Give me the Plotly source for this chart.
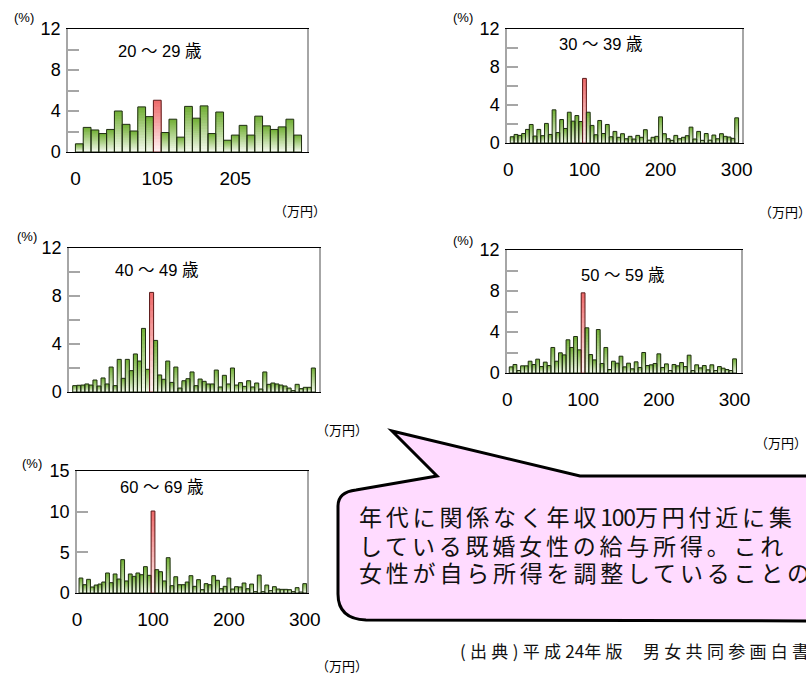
import plotly.graph_objects as go

W, H = 806, 674

# Income bins (万円): 10-wide for the 20s panel, 5-wide for the other age groups
income_20s = list(range(5, 295, 10))
income_5 = list(range(5, 305, 5))

# Share of married women (%) in each salary-income bin
share_20s = [0.8, 2.4, 2.15, 1.8, 2.2, 4.0, 2.7, 2.05, 4.4, 3.45,
             5.05, 1.9, 3.2, 1.45, 4.45, 3.3, 4.5, 1.8, 3.9, 1.15,
             1.65, 2.6, 1.65, 3.5, 2.55, 2.2, 2.45, 3.2, 1.65]
share_30s = [0.66, 0.9, 0.8, 1.0, 1.43, 1.95, 0.73, 1.43, 0.77, 2.06,
             0.9, 3.49, 1.1, 2.47, 1.53, 3.24, 2.3, 2.89, 2.26, 6.8,
             3.24, 1.85, 0.87, 2.37, 1.0, 1.95, 0.66, 1.22, 0.6, 0.98,
             0.45, 0.7, 0.42, 0.8, 0.6, 1.4, 0.3, 0.6, 0.7, 2.75,
             0.98, 0.45, 0.28, 0.8, 0.45, 0.6, 0.77, 1.67, 0.42, 1.22,
             0.28, 1.0, 0.3, 0.84, 0.45, 0.98, 0.7, 0.63, 0.49, 2.65]
share_40s = [0.53, 0.56, 0.58, 0.67, 0.58, 1.0, 0.5, 1.17, 0.67, 2.08,
             0.53, 2.72, 1.14, 2.72, 1.78, 3.17, 2.58, 5.3, 1.89, 8.3,
             4.3, 1.42, 1.06, 2.58, 0.8, 2.08, 0.33, 0.94, 1.11, 1.67,
             0.53, 1.08, 0.89, 0.67, 0.67, 1.83, 0.42, 1.39, 0.67, 2.0,
             0.58, 0.78, 0.47, 0.94, 0.42, 0.75, 0.25, 1.67, 0.64, 0.75,
             0.67, 0.58, 0.5, 0.33, 0.11, 0.64, 0.28, 0.39, 0.39, 2.0]
share_50s = [0.6, 0.83, 0.24, 0.7, 0.7, 1.15, 0.83, 1.35, 0.63, 1.06,
             0.73, 2.49, 1.15, 1.97, 1.77, 3.24, 2.49, 3.56, 2.26, 7.82,
             4.41, 1.8, 1.28, 4.24, 0.93, 2.49, 0.34, 1.15, 0.96, 1.64,
             0.6, 0.96, 0.41, 1.09, 0.54, 2.0, 0.73, 0.8, 0.93, 1.87,
             0.54, 0.89, 0.24, 0.83, 0.7, 1.02, 0.63, 1.74, 0.24, 0.8,
             0.5, 0.73, 0.31, 0.8, 0.24, 0.63, 0.47, 0.34, 0.24, 1.38]
share_60s = [1.84, 1.02, 1.68, 0.74, 0.98, 1.1, 1.35, 2.46, 1.27, 2.34,
             1.72, 4.1, 1.48, 2.34, 2.05, 2.46, 2.25, 3.24, 2.17, 10.08,
             2.87, 2.62, 1.48, 4.34, 0.9, 2.0, 1.02, 1.02, 1.35, 2.13,
             0.82, 1.64, 0.41, 1.15, 1.02, 2.13, 1.56, 0.53, 0.82, 1.84,
             0.49, 0.78, 0.74, 1.23, 0.53, 1.1, 0.16, 2.21, 0.16, 0.98,
             0.29, 0.78, 0.49, 0.45, 0.45, 0.41, 0.16, 0.66, 0.12, 1.15]

age_labels = ["20 ～ 29 歳", "30 ～ 39 歳", "40 ～ 49 歳", "50 ～ 59 歳", "60 ～ 69 歳"]
peak_bins = [105, 100, 100, 100, 100]
x_ticks_20s = [0, 105, 205]
x_ticks = [0, 100, 200, 300]

# callout lines, split so the digits can be set tighter than the kana/kanji
callout_lines = [["年代に関係なく年収", "100", "万円付近に集"],
                 ["している既婚女性の給与所得。これ"],
                 ["女性が自ら所得を調整していることの"]]
source_parts = ["(出典)平成", "24", "年版\u00a0\u00a0男女共同参画白書"]

# Panel geometry in pixels: (left, top, right, bottom)
panels = [
    dict(x=income_20s, y=share_20s, bin=10, box=(68, 29, 307, 152), xr=[-9.5, 297],
         ticks=x_ticks_20s, yr=[0, 12], ydt=4, ymin=2, labels=True,
         pct=(24, 17), age=(159, 51), unit=(300, 210, "center")),
    dict(x=income_5, y=share_30s, bin=5, box=(507, 29, 742, 143), xr=[-1.8, 307],
         ticks=x_ticks, yr=[0, 12], ydt=4, ymin=2, labels=True,
         pct=(463, 17), age=(600, 44), unit=(757, 211, "left")),
    dict(x=income_5, y=share_40s, bin=5, box=(69, 248, 319, 392), xr=[-2.1, 307],
         ticks=x_ticks, yr=[0, 12], ydt=4, ymin=2, labels=False,
         pct=(27, 236), age=(156, 270), unit=(342, 429, "center")),
    dict(x=income_5, y=share_50s, bin=5, box=(507, 250, 741, 373), xr=[-0.5, 308.5],
         ticks=x_ticks, yr=[0, 12], ydt=4, ymin=2, labels=True,
         pct=(463, 241), age=(622, 275), unit=(753, 442, "left")),
    dict(x=income_5, y=share_60s, bin=5, box=(77, 471, 307, 593), xr=[-0.2, 303],
         ticks=x_ticks, yr=[0, 15], ydt=5, ymin=None, labels=True,
         pct=(32, 463), age=(161, 487), unit=(342, 665, "center")),
]

GREEN_TOP, GREEN_BOTTOM = (116, 176, 56), (242, 249, 234)
RED_TOP, RED_BOTTOM = (238, 108, 108), (255, 240, 240)
STEPS = 16


def mix(c1, c2, t):
    return "rgb({},{},{})".format(*[round(a + (b - a) * t) for a, b in zip(c1, c2)])


def px(x, y):
    return x / W, 1 - y / H


def spaced(parts, cjk_gap, digit_gap):
    out = []
    for part in parts:
        gap = digit_gap if part.isdigit() else cjk_gap
        out.append(f'<span style="letter-spacing:{gap}px">{part}</span>')
    return "".join(out)


fig = go.Figure()
layout = dict(width=W, height=H, margin=dict(l=0, r=0, t=0, b=0, autoexpand=False),
              paper_bgcolor="white", plot_bgcolor="white", showlegend=False,
              font=dict(color="#000000"),
              barmode="overlay", annotations=[], shapes=[])
font_num = "Liberation Sans, Arial, sans-serif"
font_jp = "Liberation Sans, Noto Sans CJK JP, sans-serif"


def note(x, y, text, size, family, xanchor="center", color="#000000"):
    ax, ay = px(x, y)
    layout["annotations"].append(dict(
        x=ax, y=ay, xref="paper", yref="paper", xanchor=xanchor, yanchor="middle",
        text=text, showarrow=False, font=dict(family=family, size=size, color=color)))


for i, p in enumerate(panels):
    n = "" if i == 0 else str(i + 1)
    xa, ya = "x" + n, "y" + n
    l, t, r, b = p["box"]
    peak = [xv == peak_bins[i] for xv in p["x"]]

    # vertical gradient: stacked overlay bars, darkest on top, lightest at the base
    for k in range(STEPS):
        frac = 1 - k / STEPS
        tk = k / (STEPS - 1)
        colors = [mix(RED_TOP, RED_BOTTOM, tk) if pk else mix(GREEN_TOP, GREEN_BOTTOM, tk)
                  for pk in peak]
        fig.add_trace(go.Bar(x=p["x"], y=[v * frac for v in p["y"]], width=p["bin"],
                             marker=dict(color=colors, line=dict(width=0)),
                             xaxis=xa, yaxis=ya, hoverinfo="skip"))
    outline = ["#5a1a1a" if pk else "#1f2d12" for pk in peak]
    fig.add_trace(go.Bar(x=p["x"], y=p["y"], width=p["bin"],
                         marker=dict(color="rgba(0,0,0,0)", line=dict(width=1, color=outline)),
                         xaxis=xa, yaxis=ya, hovertemplate="%{x}万円: %{y}%<extra></extra>"))

    layout["xaxis" + n] = dict(
        domain=[l / W, r / W], anchor=ya, range=p["xr"], showgrid=False, zeroline=False,
        automargin=False,
        showline=True, linecolor="#000000", linewidth=1, mirror=True, ticks="",
        tickvals=p["ticks"], showticklabels=p["labels"], ticklabelstandoff=9,
        tickfont=dict(family=font_num, size=19, color="#000000"))
    yaxis = dict(
        domain=[1 - b / H, 1 - t / H], anchor=xa, range=p["yr"], showgrid=False, zeroline=False,
        automargin=False,
        showline=True, linecolor="#a6a6a6", linewidth=1.5, mirror=True,
        ticks="inside", ticklen=11, tickcolor="#a6a6a6", tickwidth=1.5, dtick=p["ydt"],
        tickfont=dict(family=font_num, size=18, color="#000000"), ticklabelstandoff=2)
    if p["ymin"]:
        yaxis["minor"] = dict(ticks="inside", ticklen=11, tickcolor="#a6a6a6",
                              tickwidth=1.5, dtick=p["ymin"])
    layout["yaxis" + n] = yaxis

    note(*p["pct"], "(%)", 13, font_num)
    note(*p["age"], age_labels[i], 16.5, font_jp)
    ux, uy, anc = p["unit"]
    note(ux, uy, "（万円）", 13, "Noto Sans CJK JP", xanchor=anc)

# speech-bubble callout
pts = dict(tip=(392, 431), rb=(580, 476), tr=(830, 476), br=(830, 621), bl=(366, 620),
           blc=(338, 619), lb=(338, 594), lt=(338, 506), tlc=(338, 492), tl=(356, 490),
           lbase=(437, 476))


def P(name):
    x, y = px(*pts[name])
    return f"{x:.5f},{y:.5f}"


path = (f"M{P('tip')} L{P('rb')} L{P('tr')} L{P('br')} L{P('bl')} Q{P('blc')} {P('lb')} "
        f"L{P('lt')} Q{P('tlc')} {P('tl')} L{P('lbase')} Z")
layout["shapes"].append(dict(type="path", path=path, xref="paper", yref="paper",
                             fillcolor="#FFDBFF", line=dict(color="#000000", width=3),
                             layer="above"))

for parts, yy in zip(callout_lines, [516, 545, 572]):
    note(357, yy, spaced(parts, 3.8, -1.2), 23, "Noto Sans CJK JP", xanchor="left", color="#111111")

note(458, 650, spaced(source_parts, 4.3, 0), 17, "Noto Sans CJK JP", xanchor="left", color="#111111")

fig.update_layout(**layout)
fig.write_html("out.html")
